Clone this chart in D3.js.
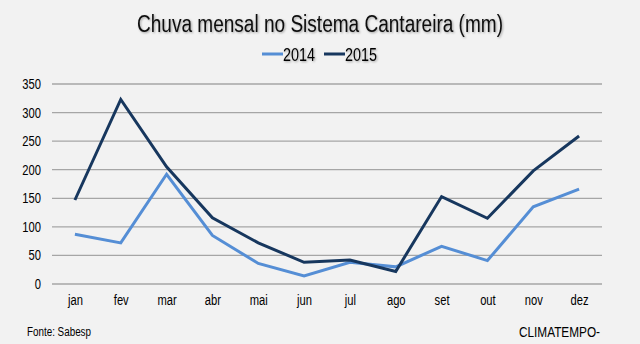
<!DOCTYPE html>
<html><head><meta charset="utf-8">
<script src="https://cdn.jsdelivr.net/npm/d3@7"></script>
<style>
html,body{margin:0;padding:0;background:#f2f2f2;}
text{font-family:"Liberation Sans Narrow","Arial Narrow","Liberation Sans",sans-serif;}
</style></head>
<body><svg id="c" width="640" height="344"></svg>
<script>
const months = ["jan","fev","mar","abr","mai","jun","jul","ago","set","out","nov","dez"];
const series2014 = [87,72,192,85,36,14,38,30,66,41,135,166];
const series2015 = [147,323,205,116,72,38,42,22,153,115,198,259];
const yTicks = [0,50,100,150,200,250,300,350];
const seriesNames = ["2014","2015"];
const colors = ["#558ed5","#17375e"];

(function(){
const svg = d3.select("#c");
svg.append("rect").attr("width",640).attr("height",344).attr("fill","#f2f2f2");
const defs = svg.append("defs");
const f = defs.append("filter").attr("id","sh").attr("x","-10%").attr("y","-20%").attr("width","130%").attr("height","160%");
f.append("feDropShadow").attr("dx",1).attr("dy",1).attr("stdDeviation",0.8).attr("flood-color","#000").attr("flood-opacity",0.35);

function narrow(sel, w){
  sel.each(function(){
    const len = this.getComputedTextLength();
    const t = w != null ? w : len*0.8;
    d3.select(this).attr("textLength",t).attr("lengthAdjust","spacingAndGlyphs");
  });
}

const pL=52,pR=602,pT=84,pB=284;
const x = d3.scalePoint().domain(months).range([pL,pR]).padding(0.5);
const y = d3.scaleLinear().domain([0,350]).range([pB,pT]);

svg.append("g").selectAll("line").data(yTicks).join("line")
 .attr("x1",pL).attr("x2",pR).attr("y1",d=>y(d)).attr("y2",d=>y(d))
 .attr("stroke","#a6a6a6").attr("stroke-width",1.3);

const ff = '"Liberation Sans Narrow","Arial Narrow","Liberation Sans",sans-serif';
const ya = svg.append("g").attr("transform",`translate(${pL},0)`)
 .call(d3.axisLeft(y).tickValues(yTicks).tickSize(0).tickPadding(11));
ya.select(".domain").remove();
ya.selectAll("text").attr("font-size",14).attr("fill","#000").attr("font-family",ff);
narrow(ya.selectAll("text"));

const xa = svg.append("g").attr("transform",`translate(0,${pB})`)
 .call(d3.axisBottom(x).tickSize(0).tickPadding(11));
xa.select(".domain").remove();
xa.selectAll("text").attr("font-size",14).attr("fill","#000").attr("font-family",ff);
narrow(xa.selectAll("text"));

const line = d3.line().x((d,i)=>x(months[i])).y(d=>y(d));
[series2014,series2015].forEach((s,k)=>{
  svg.append("path").datum(s).attr("d",line).attr("fill","none")
   .attr("stroke",colors[k]).attr("stroke-width",3).attr("stroke-linejoin","miter");
});

const title = svg.append("text").attr("x",137).attr("y",32)
 .attr("font-size",23).attr("fill","#111").attr("filter","url(#sh)")
 .text("Chuva mensal no Sistema Cantareira (mm)");
narrow(title,366);

const lg = svg.append("g");
const legX = [262,324];
seriesNames.forEach((n,k)=>{
  lg.append("line").attr("x1",legX[k]).attr("x2",legX[k]+21).attr("y1",54).attr("y2",54)
   .attr("stroke",colors[k]).attr("stroke-width",3);
  const t = lg.append("text").attr("x",legX[k]+21).attr("y",61).attr("font-size",18)
   .attr("fill","#000").attr("filter","url(#sh)").text(n);
  narrow(t,32);
});

narrow(svg.append("text").attr("x",27).attr("y",336).attr("font-size",12).attr("fill","#000").text("Fonte: Sabesp"),64);
narrow(svg.append("text").attr("x",519).attr("y",337).attr("font-size",15).attr("fill","#000").text("CLIMATEMPO-"),81);
})();
</script></body></html>
